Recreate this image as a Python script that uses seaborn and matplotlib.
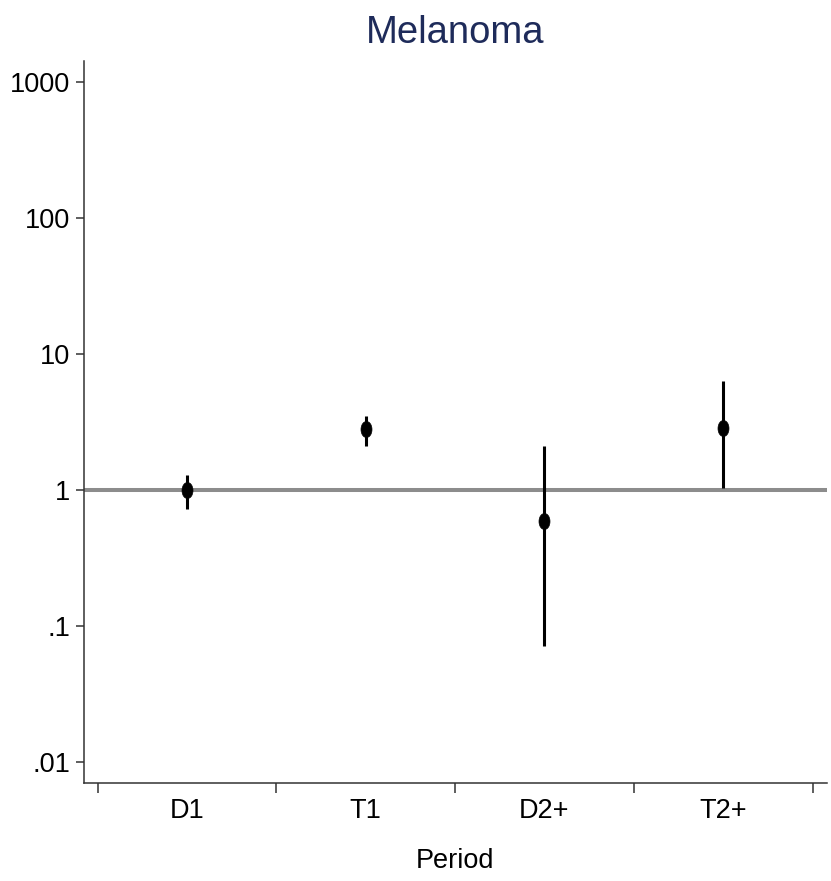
import numpy as np
import pandas as pd
import matplotlib
matplotlib.use("Agg")
import matplotlib.pyplot as plt
from matplotlib.path import Path
from matplotlib.transforms import Affine2D
from matplotlib.ticker import FixedLocator, NullLocator
import seaborn as sns

# Relative risk estimates with 95% confidence intervals by period
periods = ["D1", "T1", "D2+", "T2+"]
estimate = [1.00, 2.79, 0.59, 2.88]
ci_lower = [0.73, 2.12, 0.071, 1.04]
ci_upper = [1.28, 3.53, 2.12, 6.28]

y_ticks = [0.01, 0.1, 1, 10, 100, 1000]
y_tick_labels = [".01", ".1", "1", "10", "100", "1000"]
reference_value = 1
title = "Melanoma"
x_title = "Period"

df = pd.DataFrame({
    "period": periods,
    "estimate": estimate,
    "lower": ci_lower,
    "upper": ci_upper,
})

sns.set_theme(style="white")
plt.rcParams["font.family"] = ["Liberation Sans Narrow", "Arial Narrow",
                               "Liberation Sans", "DejaVu Sans"]

W, H = 831, 881
fig = plt.figure(figsize=(W / 100, H / 100), dpi=100)
left, right, top, bottom = 84, 827, 61, 783
ax = fig.add_axes([left / W, 1 - bottom / H, (right - left) / W, (bottom - top) / H])

axis_color = "#333333"
label_size = 19.5

# Slightly tall oval marker for the point estimates
oval = Path.unit_circle().transformed(Affine2D().scale(0.68, 1.0))

sns.scatterplot(data=df, x="period", y="estimate", marker=oval, s=135,
                color="black", edgecolor="black", linewidth=0.5,
                zorder=3, legend=False, ax=ax)
ax.vlines(df["period"], df["lower"], df["upper"], color="black",
          linewidth=2.2, zorder=2)
ax.axhline(reference_value, color="#8c8c8c", linewidth=2.9, zorder=1)

ax.set_yscale("log")
ax.set_ylim(0.00701, 1427)
ax.set_xlim(-0.576, 3.581)

ax.yaxis.set_major_locator(FixedLocator(y_ticks))
ax.yaxis.set_minor_locator(NullLocator())
ax.set_yticklabels(y_tick_labels)

n = len(periods)
ax.set_xticks(np.arange(n))
ax.set_xticklabels(periods)
ax.set_xticks(np.arange(n + 1) - 0.5, minor=True)

ax.tick_params(axis="y", which="major", direction="out", length=5.8, width=1.1,
               color=axis_color, labelsize=label_size, pad=4.3,
               labelcolor="black", left=True)
ax.tick_params(axis="x", which="major", length=0, labelsize=label_size, pad=11,
               labelcolor="black", bottom=True)
ax.tick_params(axis="x", which="minor", direction="out", length=7, width=1.1,
               color=axis_color, bottom=True)

for side in ("top", "right"):
    ax.spines[side].set_visible(False)
for side in ("left", "bottom"):
    ax.spines[side].set_color(axis_color)
    ax.spines[side].set_linewidth(1.1)
ax.grid(False)

ax.set_ylabel("")
ax.set_xlabel(x_title, fontsize=label_size, color="black", labelpad=17)
ax.set_title(title, fontsize=27.5, color="#1e2b5a", pad=13)

fig.savefig("out.png", dpi=100, facecolor="white")
